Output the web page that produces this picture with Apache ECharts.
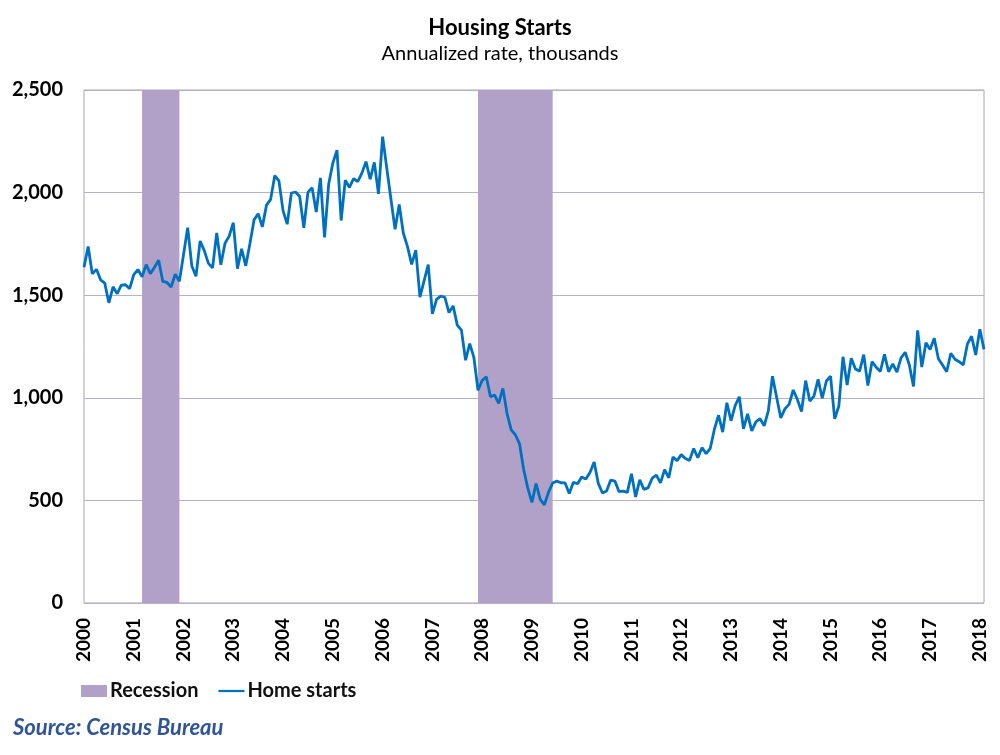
<!DOCTYPE html>
<html lang="en">
<head>
    <meta charset="UTF-8">
    <title>Housing Starts</title>
    <script src="https://cdn.jsdelivr.net/npm/echarts@6/dist/echarts.min.js"></script>
    <style>
        html, body { margin: 0; padding: 0; background: #fff; }
        #chart { width: 1000px; height: 755px; }
    </style>
</head>
<body>
<div id="chart"></div>

<script type="text/javascript">
    // 月度新屋开工 (年化, 千套), 2000-01 ~ 2018-02
    var starts2000 = [1636, 1737, 1604, 1626, 1575, 1559, 1463, 1541, 1507, 1549, 1551, 1532];
    var starts2001 = [1600, 1625, 1590, 1649, 1605, 1636, 1670, 1567, 1562, 1540, 1602, 1568];
    var starts2002 = [1698, 1829, 1642, 1592, 1764, 1717, 1655, 1633, 1804, 1648, 1753, 1788];
    var starts2003 = [1853, 1629, 1726, 1643, 1751, 1867, 1897, 1833, 1939, 1967, 2083, 2057];
    var starts2004 = [1911, 1846, 1998, 2003, 1981, 1828, 2002, 2024, 1905, 2072, 1782, 2042];
    var starts2005 = [2144, 2207, 1864, 2061, 2025, 2068, 2054, 2095, 2151, 2065, 2147, 1994];
    var starts2006 = [2273, 2119, 1969, 1821, 1942, 1802, 1737, 1650, 1720, 1491, 1570, 1649];
    var starts2007 = [1409, 1480, 1495, 1490, 1415, 1448, 1354, 1330, 1183, 1264, 1197, 1037];
    var starts2008 = [1084, 1103, 1005, 1013, 973, 1046, 923, 844, 820, 777, 652, 560];
    var starts2009 = [490, 582, 505, 478, 540, 585, 594, 586, 585, 534, 588, 581];
    var starts2010 = [614, 604, 636, 687, 583, 536, 546, 599, 594, 543, 545, 539];
    var starts2011 = [630, 517, 600, 554, 561, 608, 623, 585, 650, 610, 711, 694];
    var starts2012 = [723, 704, 695, 753, 708, 757, 728, 754, 847, 915, 833, 976];
    var starts2013 = [888, 962, 1005, 849, 922, 839, 883, 898, 863, 936, 1105, 1003];
    var starts2014 = [902, 946, 968, 1038, 992, 933, 1084, 984, 1008, 1090, 998, 1082];
    var starts2015 = [1105, 897, 960, 1200, 1062, 1193, 1140, 1130, 1210, 1060, 1176, 1149];
    var starts2016 = [1128, 1212, 1127, 1165, 1125, 1195, 1222, 1160, 1055, 1329, 1150, 1268];
    var starts2017 = [1235, 1290, 1190, 1160, 1127, 1217, 1188, 1176, 1160, 1262, 1300, 1209];
    var starts2018 = [1334, 1236];

    var firstYear = 2000;
    // 衰退期 (起止月份)
    var recessions = [['2001-03', '2001-12'], ['2007-12', '2009-06']];
    var yTicks = [0, 500, 1000, 1500, 2000, 2500];

    var homeStarts = [].concat(starts2000, starts2001, starts2002, starts2003, starts2004,
        starts2005, starts2006, starts2007, starts2008, starts2009, starts2010, starts2011,
        starts2012, starts2013, starts2014, starts2015, starts2016, starts2017, starts2018);

    // 月份类目 YYYY-MM
    var months = [];
    for (var i = 0; i < homeStarts.length; i++) {
        var y = firstYear + Math.floor(i / 12);
        var m = i % 12 + 1;
        months.push(y + '-' + (m < 10 ? '0' + m : m));
    }

    var font = 'Lato, "Open Sans", sans-serif';
    var chart = echarts.init(document.getElementById('chart'));

    var option = {
        animation: false,
        backgroundColor: '#fff',
        title: {
            text: 'Housing Starts',
            subtext: 'Annualized rate, thousands',
            left: 'center',
            top: 12,
            itemGap: 5,
            textStyle: {fontFamily: font, fontSize: 22, fontWeight: 'bold', color: '#000'},
            subtextStyle: {fontFamily: font, fontSize: 20, color: '#000'}
        },
        legend: {
            left: 76,
            top: 676,
            itemWidth: 26,
            itemHeight: 12,
            itemGap: 20,
            textStyle: {fontFamily: font, fontSize: 20, fontWeight: 'bold', color: '#111', padding: [0, 0, 0, -2]},
            data: [
                {name: 'Recession', icon: 'rect'},
                {name: 'Home starts', icon: 'path://M0,0H30V2.6H0Z'}
            ]
        },
        grid: {
            left: 84,
            right: 16,
            top: 90,
            bottom: 152,
            show: true,
            borderColor: '#A9A4B5',
            borderWidth: 1
        },
        xAxis: {
            type: 'category',
            data: months,
            boundaryGap: false,
            axisLine: {show: false},
            axisTick: {show: false},
            splitLine: {show: false},
            axisLabel: {
                interval: function (idx, val) { return val.slice(5) === '01'; },
                formatter: function (val) { return val.slice(0, 4); },
                rotate: 90,
                margin: 15,
                fontFamily: font,
                fontSize: 19,
                fontWeight: 'bold',
                color: '#000'
            }
        },
        yAxis: {
            type: 'value',
            min: yTicks[0],
            max: yTicks[yTicks.length - 1],
            interval: 500,
            axisLine: {show: false},
            axisTick: {show: false},
            splitLine: {lineStyle: {color: '#B8B0C8', width: 1}},
            axisLabel: {
                margin: 21,
                fontFamily: font,
                fontSize: 20,
                fontWeight: 'bold',
                color: '#000',
                formatter: function (v) { return v.toLocaleString('en-US'); }
            }
        },
        series: [
            {
                name: 'Recession',
                type: 'line',
                data: [],
                itemStyle: {color: '#B1A0C7'},
                lineStyle: {color: '#B1A0C7'},
                markArea: {
                    silent: true,
                    itemStyle: {color: '#B1A0C7', opacity: 1},
                    data: recessions.map(function (r) {
                        return [{xAxis: r[0]}, {xAxis: r[1]}];
                    })
                }
            },
            {
                name: 'Home starts',
                type: 'line',
                z: 5,
                data: homeStarts,
                symbol: 'none',
                itemStyle: {color: '#0070C0'},
                lineStyle: {color: '#0070C0', width: 2.8}
            }
        ],
        graphic: [{
            type: 'text',
            left: 13,
            top: 717,
            style: {
                text: 'Source: Census Bureau',
                fill: '#2F5597',
                font: 'italic bold 22px ' + font
            }
        }]
    };
    chart.setOption(option);
</script>

</body>
</html>
